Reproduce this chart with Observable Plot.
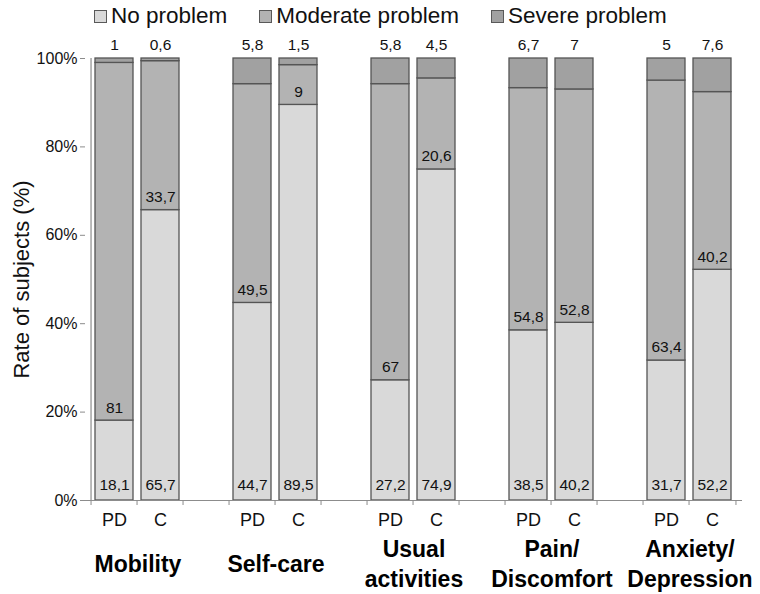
<!DOCTYPE html>
<html>
<head>
<meta charset="utf-8">
<script src="https://cdn.jsdelivr.net/npm/d3@7"></script>
<script src="https://cdn.jsdelivr.net/npm/@observablehq/plot@0.6"></script>
<style>
  html, body { margin: 0; padding: 0; background: #fff; }
  body { width: 760px; height: 594px; overflow: hidden; font-family: "Liberation Sans", Arial, sans-serif; }
  #legend { height: 32px; display: flex; align-items: center; padding-left: 94px; box-sizing: border-box; font-size: 22.5px; color: #111; }
  .item { display: flex; align-items: center; margin-right: 32px; }
  .sw { width: 11px; height: 11px; border: 1px solid #595959; margin-right: 4px; }
</style>
</head>
<body>
<div id="legend"></div>
<div id="chart"></div>
<script>
// ---- data ----
const dimensions = ["Mobility", "Self-care", "Usual\nactivities", "Pain/\nDiscomfort", "Anxiety/\nDepression"];
const groups = ["PD", "C"];
const levels = ["No problem", "Moderate problem", "Severe problem"];
const colors = ["#d9d9d9", "#b3b3b3", "#a1a1a1"];
const pdNo  = [18.1, 44.7, 27.2, 38.5, 31.7];
const pdMod = [81, 49.5, 67, 54.8, 63.4];
const pdSev = [1, 5.8, 5.8, 6.7, 5];
const cNo   = [65.7, 89.5, 74.9, 40.2, 52.2];
const cMod  = [33.7, 9, 20.6, 52.8, 40.2];
const cSev  = [0.6, 1.5, 4.5, 7, 7.6];
const yTicks = [0, 0.2, 0.4, 0.6, 0.8, 1];

// ---- build table ----
const series = {PD: [pdNo, pdMod, pdSev], C: [cNo, cMod, cSev]};
const rows = [];
const bars = [];
const xDomain = [];
dimensions.forEach((dim, i) => {
  groups.forEach(g => {
    const key = `${i}-${g}`;
    xDomain.push(key);
    const [no, mod, sev] = series[g].map(a => a[i]);
    const total = no + mod + sev;
    levels.forEach((lv, j) => rows.push({key, dim, group: g, level: lv, value: series[g][j][i]}));
    bars.push({key, no, mod, sev, total});
  });
  if (i < dimensions.length - 1) xDomain.push(`${i}-gap`);
});
const fmt = v => String(v).replace(".", ",");

// legend
const legend = document.getElementById("legend");
levels.forEach((lv, j) => {
  const it = document.createElement("div");
  it.className = "item";
  it.innerHTML = `<span class="sw" style="background:${colors[j]}"></span><span>${lv}</span>`;
  legend.appendChild(it);
});

const width = 760, height = 562, mL = 85, mR = 18;
const step = (width - mL - mR) / xDomain.length;
const font = "Liberation Sans, Arial, sans-serif";

const chart = Plot.plot({
  width, height,
  marginLeft: mL, marginRight: mR, marginTop: 26, marginBottom: 94,
  style: {fontFamily: font, background: "#fff", color: "#111"},
  x: {domain: xDomain, paddingInner: 0.17, paddingOuter: 0.085, axis: null},
  y: {domain: [0, 1], axis: null},
  color: {domain: levels, range: colors},
  marks: [
    Plot.barY(rows, Plot.stackY({offset: "normalize"}, {x: "key", y: "value", fill: "level", stroke: "#555", strokeWidth: 1.3})),
    // axes lines
    Plot.ruleY([0], {stroke: "#8c8c8c", strokeWidth: 1.2}),
    Plot.ruleX([xDomain[0]], {x: d => d, y1: 0, y2: 1, dx: -step / 2, stroke: "#8c8c8c", strokeWidth: 1.2}),
    // y axis
    Plot.axisY({ticks: yTicks, tickFormat: d3.format(".0%"), tickSize: 5, tickPadding: 3, fontSize: 16, stroke: "#8c8c8c", label: null}),
    Plot.text(["Rate of subjects (%)"], {frameAnchor: "left", textAnchor: "middle", dx: -mL + 21, rotate: -90, text: d => d, fontSize: 22, fill: "#111"}),
    // x axis boundary ticks
    Plot.axisX({ticks: xDomain, tickSize: 5, tickFormat: () => "", dx: -step / 2, stroke: "#8c8c8c", label: null}),
    Plot.axisX({ticks: [xDomain[xDomain.length - 1]], tickSize: 5, tickFormat: () => "", dx: step / 2, stroke: "#8c8c8c", label: null}),
    // PD / C labels
    Plot.axisX({ticks: xDomain, tickSize: 0, tickPadding: 13, tickFormat: k => k.endsWith("gap") ? "" : k.split("-")[1], fontSize: 18, label: null}),
    // dimension labels
    Plot.text(dimensions, {x: (d, i) => `${i}-PD`, y: () => 0, dx: step / 2, dy: 62, text: d => d, fontWeight: "bold", fontSize: 23, lineAnchor: "middle", lineHeight: 1.3, fill: "#000"}),
    // value labels
    Plot.text(bars, {x: "key", y: () => 0, dy: -15, text: d => fmt(d.no), fontSize: 15.5, fill: "#111"}),
    Plot.text(bars, {x: "key", y: d => d.no / d.total, dy: -13, text: d => fmt(d.mod), fontSize: 15.5, fill: "#111"}),
    Plot.text(bars, {x: "key", y: () => 1, dy: -13, text: d => fmt(d.sev), fontSize: 15.5, fill: "#111"})
  ]
});
document.getElementById("chart").appendChild(chart);
</script>
</body>
</html>
